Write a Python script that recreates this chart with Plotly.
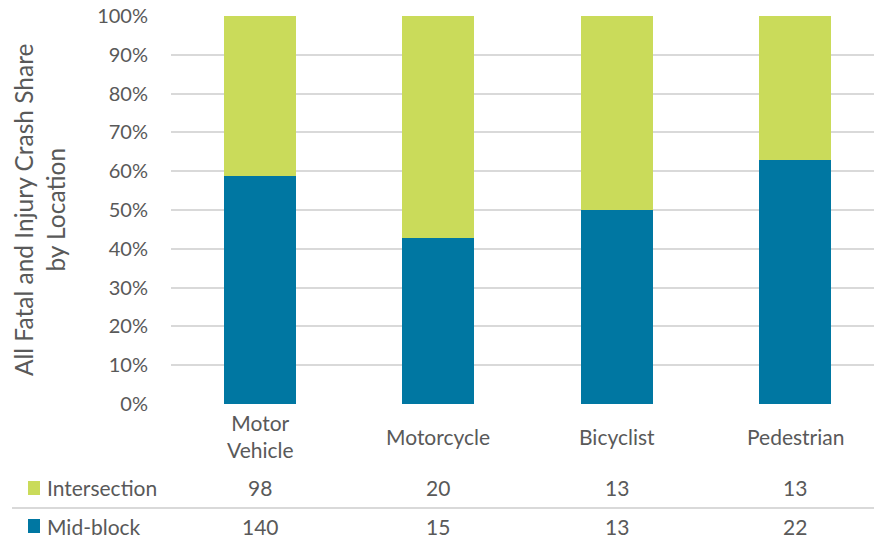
import plotly.graph_objects as go

categories = ["Motor Vehicle", "Motorcycle", "Bicyclist", "Pedestrian"]
cat_labels = ["Motor<br>Vehicle", "Motorcycle", "Bicyclist", "Pedestrian"]
intersection = [98, 20, 13, 13]
mid_block = [140, 15, 13, 22]

GREEN = "#cadb5a"
BLUE = "#0077a2"
TEXT = "#595959"
FONT = "Lato"

totals = [a + b for a, b in zip(intersection, mid_block)]
mid_share = [m / t * 100 for m, t in zip(mid_block, totals)]
int_share = [i / t * 100 for i, t in zip(intersection, totals)]

fig = go.Figure()
fig.add_trace(go.Bar(x=categories, y=mid_share, name="Mid-block",
                     marker=dict(color=BLUE, line=dict(width=0)), width=0.404))
fig.add_trace(go.Bar(x=categories, y=int_share, name="Intersection",
                     marker=dict(color=GREEN, line=dict(width=0)), width=0.404))

W, H = 874, 539
L, T, B = 171, 16, 135


def py(px):
    # pixel row -> paper y
    return 1 - (px - T) / (H - T - B)


def px_x(px):
    # pixel column -> paper x
    return (px - L) / (W - L)


# category labels under the axis
for c, lab in zip(categories, cat_labels):
    fig.add_annotation(x=c, xref="x", y=py(436), yref="paper", text=lab,
                       showarrow=False, xanchor="center", yanchor="middle",
                       font=dict(size=21, color=TEXT, family=FONT))

# data table rows
for row_y, name, vals, col in [(488, "Intersection", intersection, GREEN),
                               (526, "Mid-block", mid_block, BLUE)]:
    for c, v in zip(categories, vals):
        fig.add_annotation(x=c, xref="x", y=py(row_y), yref="paper", text=str(v),
                           showarrow=False, xanchor="center", yanchor="middle",
                           font=dict(size=21, color=TEXT, family=FONT))
    fig.add_annotation(x=px_x(45), xref="paper", y=py(row_y), yref="paper",
                       text=name, showarrow=False, xanchor="left", yanchor="middle",
                       font=dict(size=21, color=TEXT, family=FONT))
    fig.add_shape(type="rect", xref="paper", yref="paper",
                  x0=px_x(28), x1=px_x(40),
                  y0=py(row_y + 7), y1=py(row_y - 7),
                  fillcolor=col, line=dict(width=0))

fig.add_shape(type="line", xref="paper", yref="paper",
              x0=px_x(12), x1=1, y0=py(508), y1=py(508),
              line=dict(color="#d9d9d9", width=2))

# y axis title
fig.add_annotation(x=px_x(39), xref="paper", y=py(210), yref="paper",
                   text="All Fatal and Injury Crash Share<br>by Location",
                   textangle=-90, showarrow=False, xanchor="center", yanchor="middle",
                   font=dict(size=24.5, color=TEXT, family=FONT))

fig.update_layout(
    width=W, height=H,
    margin=dict(l=L, r=0, t=T, b=B),
    barmode="stack",
    showlegend=False,
    plot_bgcolor="white",
    paper_bgcolor="white",
    font=dict(family=FONT, color=TEXT, size=20),
    xaxis=dict(range=[-0.5, 3.443], showticklabels=False, showgrid=False,
               zeroline=False, showline=False),
    yaxis=dict(range=[0, 100], tickvals=list(range(0, 101, 10)),
               ticktext=[f"{v}%" for v in range(0, 101, 10)],
               showgrid=True, gridcolor="#d9d9d9", gridwidth=2,
               zeroline=False, showline=False, ticklabelstandoff=22,
               tickfont=dict(size=20, color=TEXT)),
)

fig.write_html("out.html", config={"displayModeBar": False},
               post_script="document.body.style.margin='0';")
